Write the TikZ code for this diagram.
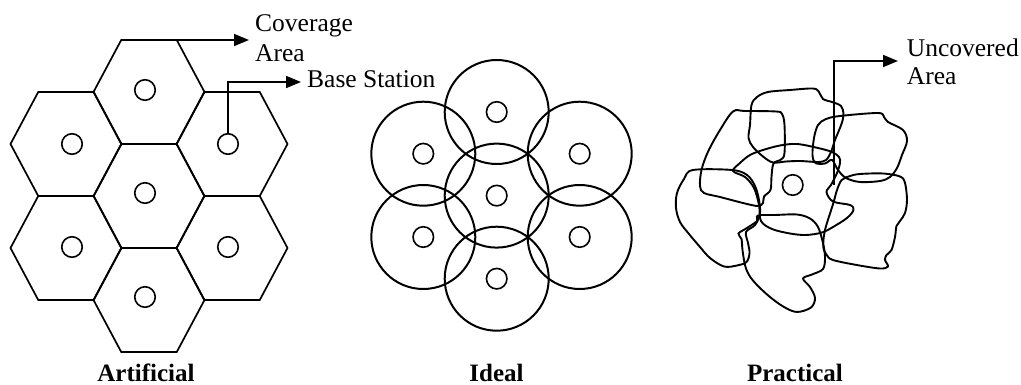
\documentclass[tikz,border=0pt]{standalone}
\usepackage{fontspec}
\setmainfont{Liberation Serif}
\usetikzlibrary{arrows.meta}
\begin{document}
\begin{tikzpicture}[x=1pt,y=-1pt,
  hexline/.style={line width=1.7pt},
  bsc/.style={circle,draw,line width=1.6pt,minimum size=20.5pt,inner sep=0pt},
  bigc/.style={line width=2pt},
  blob/.style={line width=1.9pt},
  callout/.style={line width=1.7pt,-{Triangle[length=15pt,width=12pt]}},
  lbl/.style={font=\fontsize{25.5}{30}\selectfont,inner sep=0pt,anchor=base west},
  ttl/.style={font=\fontsize{25}{30}\selectfont\bfseries,inner sep=0pt,anchor=base}]
\useasboundingbox (0,0) rectangle (1021,385);

% ---------- Artificial ----------
\foreach \cx/\cy in {66/144,149/92,232/144,66/248,149/196,232/248,149/300}{
  \draw[hexline] (\cx-55.5,\cy) -- (\cx-27.75,\cy-52) -- (\cx+27.75,\cy-52)
     -- (\cx+55.5,\cy) -- (\cx+27.75,\cy+52) -- (\cx-27.75,\cy+52) -- cycle;
}
\node[bsc] (a1) at (145,90) {};
\node[bsc] (a2) at (72,144) {};
\node[bsc] (a3) at (228,144) {};
\node[bsc] (a4) at (145,193) {};
\node[bsc] (a5) at (72,247) {};
\node[bsc] (a6) at (228,247) {};
\node[bsc] (a7) at (145,297) {};

\coordinate (hexv) at (176.75,40);
\coordinate (covtip) at (249,40);
\draw[callout] (hexv) -- (covtip);
\node[lbl] (cov1) at (255,31.5) {Coverage};
\node[lbl] (cov2) at (255,61.7) {Area};

\coordinate (bstip) at (301,82);
\draw[callout] (a3.north) |- (bstip);
\node[lbl] (bslbl) at (307,87.3) {Base Station};

\node[ttl] (t1) at (146,381) {Artificial};

% ---------- Ideal ----------
\foreach \n/\cx/\cy in {i1/496.7/112,i2/423.3/153.7,i3/579.7/153.7,i4/496.7/195.6,i5/423.3/237,i6/579.7/237,i7/496.7/278.7}{
  \draw[bigc] (\cx,\cy) circle[radius=52];
  \node[bsc] (\n) at (\cx,\cy) {};
}
\node[ttl] (t2) at (496.5,381) {Ideal};

% ---------- Practical ----------
% top
\draw[blob] plot[smooth cycle,tension=0.55] coordinates {(757,97) (768,92) (790,90) (813,88.5) (819,92) (823,99) (832,102) (841,106) (843.5,114) (841.5,124) (835,140) (831,152) (826,160) (818,162) (800,161) (786,161.5) (773,162.5) (763,156.5) (753,147) (748.5,138) (750,125) (751.5,105)};
% top-left
\draw[blob] plot[smooth cycle,tension=0.55] coordinates {(733,111.5) (745,111) (776,111.5) (782,114) (784.5,125) (784.5,153) (781,159.5) (773.5,163.5) (771.5,176.7) (770.5,190) (764,196.5) (763,203) (758,206) (745,203.5) (720,197) (704,193) (700,186) (701.5,170) (708,151.7) (720,130)};
% left
\draw[blob] plot[smooth cycle,tension=0.55] coordinates {(693,170) (732,170) (747,175) (755,186) (759,200) (760,214) (755,225) (746,232) (748,243) (749.5,253) (746.5,262) (737,265.5) (724,266.5) (710,258) (700,247) (689,234) (680,222) (676,208) (677,193) (684,179)};
% bottom
\draw[blob] plot[smooth cycle,tension=0.55] coordinates {(758,215.5) (775,215) (797,214.5) (810,218.5) (818,227) (823,243) (825,257) (823,269) (812,274.5) (803,278.5) (810,287) (815,298) (811,307.5) (797,312) (784,307) (770,297) (757,285) (749,275) (745,265) (742.5,250) (741.5,239) (738.5,233.5) (747,228) (757,221)};
% centre
\draw[blob] plot[smooth cycle,tension=0.55] coordinates {(733,171) (740,163) (750,155) (763,150) (780,145.5) (797,144) (818,148) (832,152) (839,157) (840,163) (837,173) (831,185) (826.5,192) (833,201.5) (850,205) (853.5,210) (847,218) (833,227) (822,232.5) (806,235) (790,233.5) (772,229) (761,221) (759,205) (754,188) (745,177)};
% top-right
\draw[blob] plot[smooth cycle,tension=0.55] coordinates {(818,125) (826,119) (840,116) (878,113) (884,117) (888,122) (903,130) (907,141) (902,155) (897,168) (890,177) (880,181) (860,182) (846,178) (838,170) (832,160) (825,163.5) (815.5,163) (812.5,155) (814,138)};
% right
\draw[blob] plot[smooth cycle,tension=0.55] coordinates {(841.7,180) (850,176) (860,174) (883,173.5) (900,176.5) (905,183) (907,200) (905,213) (900,221) (896.5,226) (895,237) (891.5,250) (886.5,255) (885,260) (888,266.5) (880,268.5) (856.7,265) (833,260) (826.7,255) (823.3,246.7) (825,230) (833.3,203.3) (837,190)};

\node[bsc] (p1) at (792.7,185) {};

\coordinate (unc) at (834.3,185);
\coordinate (unctip) at (898,61);
\draw[callout] (unc) |- (unctip);
\node[lbl] (unc1) at (906.7,56.7) {Uncovered};
\node[lbl] (unc2) at (906.7,85) {Area};

\node[ttl] (t3) at (795,381) {Practical};
\end{tikzpicture}
\end{document}
